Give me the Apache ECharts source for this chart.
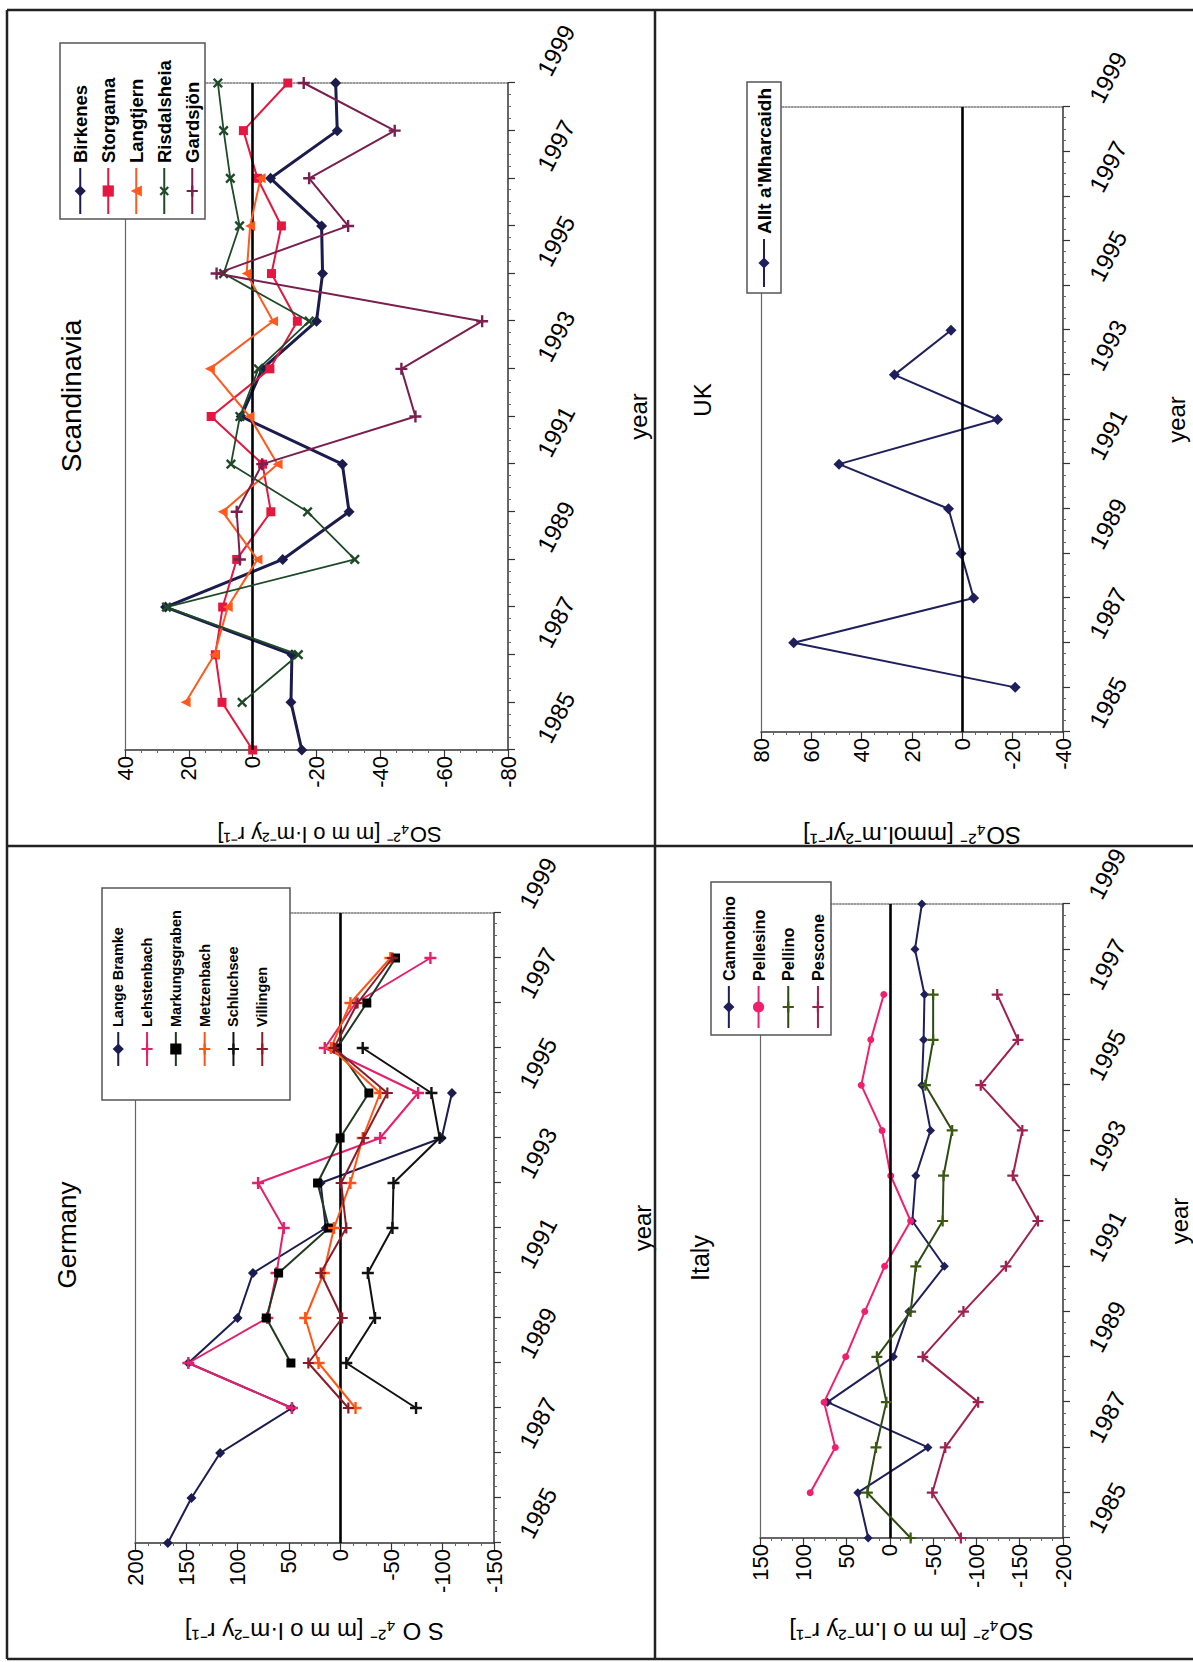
<!DOCTYPE html>
<html><head><meta charset="utf-8">
<script src="https://cdn.jsdelivr.net/npm/echarts@6/dist/echarts.min.js"></script>
<style>
html,body{margin:0;padding:0;width:1193px;height:1662px;overflow:hidden;background:#fff;}
#wrap{position:absolute;left:0;top:0;width:1662px;height:1193px;transform-origin:0 0;transform:translate(0px,1662px) rotate(-90deg);}
#chart{width:1662px;height:1193px;}
</style></head><body>
<div id="wrap"><div id="chart"></div></div>
<script>
// ---------- DATA ----------
const years = [1984,1985,1986,1987,1988,1989,1990,1991,1992,1993,1994,1995,1996,1997,1998];
const extraYearLabel = 1999;

// Scandinavia
const scanBirkenes    = [-15.4,-12,-12.3,27.3,-9.4,-30.2,-28.1,3.6,-3,-20,-21.9,-21.6,-5.6,-26.5,-26];
const scanStorgama    = [0,9.6,11.7,9.4,5,-5.7,-3.1,13,-5.4,-14,-5.9,-9,-1.5,2.9,-11];
const scanLangtjern   = [null,21,12,7.8,-1.5,9.4,-7.8,1,13.4,-6.4,1.9,0.8,-2.5,null,null];
const scanRisdalsheia = [null,3.3,-14.3,27,-32,-17.2,6.8,4,-1.8,-17.7,9.1,4.1,7,9.1,10.9];
const scanGardsjon    = [null,null,null,null,4,5,-3,-51,-46.6,-71.9,11.3,-29.9,-17.7,-44.5,-16];

// Germany
const gerLangeBramke   = [168,145,117,47,148,100,85,14,19,-99,-109,null,null,null,null];
const gerLehstenbach   = [null,null,null,47,148,71,62,55,80,-39,-76,15,-15,-88,null];
const gerMarkungsgraben= [null,null,null,null,48,72,60,11,22,0,-28,3,-26,-54,null];
const gerMetzenbach    = [null,null,null,-15,21,34,16,6,-10,-22,-39,9,-10,-49,null];
const gerSchluchsee    = [null,null,null,-74,-6,-34,-27,-51,-52,-97,-89,-22,null,null,null];
const gerVillingen     = [null,null,null,-8,31,-2,19,-6,-1,-23,-46,6,-17,-51,null];

// Italy
const itaCannobino = [25,37,-44,72,-4,-22,-63,-26,-30,-47,-37,-39,-40,-29,-37];
const itaPellesino = [null,92,63,76,51,29,6,-24,-1,9,33,22,7,null,null];
const itaPellino   = [-24,26,16,4,15,-24,-30,-61,-62,-72,-41,-50,-50,null,null];
const itaPescone   = [-82,-49,-64,-102,-38,-85,-134,-171,-142,-153,-105,-148,-124,null,null];

// UK
const ukAllt = [null,-21,67,-4.5,0.5,5.5,49,-14,27,4.5,null,null,null,null,null];

// value-axis ranges (tick labels)
const scanRange = {min:-80, max:40, interval:20};
const gerRange  = {min:-150, max:200, interval:50};
const itaRange  = {min:-200, max:150, interval:50};
const ukRange   = {min:-40, max:80, interval:20};

const titles = ['Scandinavia','Germany','Italy','UK'];
const axisNames = ['SO\u2084\u00B2\u207B [m m o l\u00B7m\u207B\u00B2y r\u207B\u00B9]',
                   'S O \u2084\u00B2\u207B [m m o l\u00B7m\u207B\u00B2y r\u207B\u00B9]',
                   'SO\u2084\u00B2\u207B [m m o l.m\u207B\u00B2y r\u207B\u00B9]',
                   'SO\u2084\u00B2\u207B [mmol.m\u207B\u00B2yr\u207B\u00B9]'];
const yearName = 'year';

// ---------- STYLE / LAYOUT (landscape coords, page is rotated -90deg) ----------
const FONT = "'Liberation Sans', Arial, sans-serif";
const PLUS = 'path://M-1,-5H1V-1H5V1H1V5H-1V1H-5V-1H-1Z';

const panels = [
  {range:scanRange, grid:{left:912,top:125,width:667,height:383}, nameGap:73, nameSize:22, namePad:[0,26,0,0], yearGap:118, labelMargin:56,
   title:[1266,71], titleSize:28,
   legend:{box:[1443,60,176,145], iconLeft:1447, iconW:46, first:80, step:27.5, font:18.5},
   series:[
    {name:'Birkenes', data:scanBirkenes, color:'#1c1b4d', symbol:'diamond', size:11, width:3},
    {name:'Storgama', data:scanStorgama, color:'#e3173f', symbol:'rect', size:9, width:2},
    {name:'Langtjern', data:scanLangtjern, color:'#ff5a1e', symbol:'triangle', size:10, width:2},
    {name:'Risdalsheia', data:scanRisdalsheia, color:'#1f4a28', symbol:PLUS, size:12, width:1.8, rotate:45},
    {name:'Gardsjön', data:scanGardsjon, color:'#7a1f4f', symbol:PLUS, size:12, width:2}
   ]},
  {range:gerRange, grid:{left:119,top:135,width:630,height:359}, nameGap:76, nameSize:24, namePad:[0,0,0,0], yearGap:136, labelMargin:52,
   title:[427,67], titleSize:26,
   legend:{box:[562,102,212,188], iconLeft:595, iconW:34, first:118, step:28.3, font:14.5},
   series:[
    {name:'Lange Bramke', data:gerLangeBramke, color:'#1c1c50', symbol:'diamond', size:10, width:2},
    {name:'Lehstenbach', data:gerLehstenbach, color:'#e4206c', symbol:PLUS, size:12, width:2},
    {name:'Markungsgraben', data:gerMarkungsgraben, color:'#1f3a1f', symbol:'rect', size:9, width:2, mcolor:'#000'},
    {name:'Metzenbach', data:gerMetzenbach, color:'#ff5514', symbol:PLUS, size:12, width:2},
    {name:'Schluchsee', data:gerSchluchsee, color:'#111111', symbol:PLUS, size:12, width:2},
    {name:'Villingen', data:gerVillingen, color:'#8a1c2a', symbol:PLUS, size:11, width:2}
   ]},
  {range:itaRange, grid:{left:124,top:760,width:634,height:303}, nameGap:81, nameSize:24, namePad:[0,0,0,0], yearGap:104, labelMargin:52,
   title:[404,700], titleSize:25,
   legend:{box:[627,711,153,120], iconLeft:633, iconW:42, first:729, step:30, font:16.3},
   series:[
    {name:'Cannobino', data:itaCannobino, color:'#1f1f5c', symbol:'diamond', size:9, width:2},
    {name:'Pellesino', data:itaPellesino, color:'#f0206e', symbol:'circle', size:7, width:2},
    {name:'Pellino', data:itaPellino, color:'#2d4a14', symbol:PLUS, size:11, width:2, mcolor:'#3b5a10'},
    {name:'Pescone', data:itaPescone, color:'#a0204f', symbol:PLUS, size:11, width:2}
   ]},
  {range:ukRange, grid:{left:930,top:761,width:625,height:302}, nameGap:91, nameSize:24, namePad:[0,0,0,0], yearGap:101, labelMargin:53,
   title:[1262,702], titleSize:24,
   legend:{box:[1369,747,211,34], iconLeft:1374, iconW:48, first:764, step:30, font:19},
   series:[
    {name:"Allt a'Mharcaidh", data:ukAllt, color:'#1f1f5c', symbol:'diamond', size:11, width:2}
   ]}
];

const chart = echarts.init(document.getElementById('chart'), null, {renderer:'svg', width:1662, height:1193});

const grids=[], xAxes=[], yAxes=[], series=[], legends=[];
panels.forEach((P,i)=>{
  grids.push(Object.assign({containLabel:false, outerBoundsMode:'none'}, P.grid));
  xAxes.push({gridIndex:i, type:'value', min:years[0], max:years[years.length-1], interval:1, position:'bottom',
    axisLine:{show:true, onZero:false, lineStyle:{color:'#333', width:1.5}},
    axisTick:{show:true, inside:false, length:7, lineStyle:{color:'#333', width:1.2}},
    minorTick:{show:true, splitNumber:4, length:3, lineStyle:{color:'#666', width:1}},
    splitLine:{show:false},
    axisLabel:{show:true, formatter:v=> (v%2===1 ? String(v) : ''), rotate:-28, align:'center', verticalAlign:'middle',
      margin:P.labelMargin, padding:[0,34,0,0], fontSize:24, fontFamily:FONT, color:'#000', showMinLabel:true, showMaxLabel:true, hideOverlap:false},
    name:yearName, nameLocation:'middle', nameGap:P.yearGap, nameTextStyle:{fontSize:24, fontFamily:FONT, color:'#000'}
  });
  yAxes.push({gridIndex:i, type:'value', min:P.range.min, max:P.range.max, interval:P.range.interval, position:'left',
    axisLine:{show:true, onZero:false, lineStyle:{color:'#333', width:1.5}},
    axisTick:{show:true, inside:false, length:7, lineStyle:{color:'#333', width:1.2}},
    minorTick:{show:true, splitNumber:4, length:3, lineStyle:{color:'#666', width:1}},
    splitLine:{show:false},
    axisLabel:{fontSize:22, fontFamily:FONT, color:'#000', margin:6},
    name:axisNames[i], nameLocation:'middle', nameGap:P.nameGap,
    nameTextStyle:{fontSize:P.nameSize, fontFamily:FONT, color:'#000', padding:P.namePad}
  });
  P.series.forEach((s,k)=>{
    const o = {
      name:s.name, type:'line', xAxisIndex:i, yAxisIndex:i,
      data: years.map((y,j)=>[y, s.data[j]===null ? '-' : s.data[j]]),
      symbol:s.symbol, symbolSize:s.size, symbolRotate:s.rotate||0, showSymbol:true, connectNulls:false,
      lineStyle:{color:s.color, width:s.width},
      itemStyle:{color:s.mcolor||s.color},
      emphasis:{disabled:true}, animation:false, z:3+k
    };
    if(k===0){
      o.markLine = {silent:true, symbol:'none', animation:false, label:{show:false},
        lineStyle:{color:'#000', width:2.6, type:'solid'}, data:[{yAxis:0}]};
    }
    series.push(o);
  });
  const L = P.legend, h = Math.max(14, L.font);
  legends.push({orient:'vertical', left:L.iconLeft, top:L.first - h/2, data:P.series.map(s=>s.name),
    itemWidth:L.iconW, itemHeight:14, itemGap:L.step - h, padding:0,
    borderWidth:0, backgroundColor:'transparent', selectedMode:false,
    textStyle:{fontSize:L.font, fontWeight:'bold', fontFamily:FONT, color:'#000'}, z:20});
});
// frame lines of plot area: top (max value) solid grey, right (last year) dotted grey
panels.forEach((P,i)=>{
  xAxes.push({gridIndex:i, type:'value', min:years[0], max:years[years.length-1], position:'top',
    axisLine:{show:true, onZero:false, lineStyle:{color:'#666', width:1.2}}, axisTick:{show:false}, axisLabel:{show:false}, splitLine:{show:false}});
  yAxes.push({gridIndex:i, type:'value', min:P.range.min, max:P.range.max, position:'right',
    axisLine:{show:true, onZero:false, lineStyle:{color:'#777', width:1.5, type:'dotted'}}, axisTick:{show:false}, axisLabel:{show:false}, splitLine:{show:false}});
});

chart.setOption({
  animation:false,
  backgroundColor:'#fff',
  grid:grids, xAxis:xAxes, yAxis:yAxes, series:series, legend:legends
});

// decorations: outer frame, panel dividers, legend boxes, titles, extra year label
const gfx = [];
const frame = {stroke:'#222', lineWidth:2.5};
gfx.push({type:'line', shape:{x1:3, y1:7, x2:1652, y2:7}, style:frame, z:30});
gfx.push({type:'line', shape:{x1:3, y1:7, x2:3, y2:1193}, style:frame, z:30});
gfx.push({type:'line', shape:{x1:1652, y1:7, x2:1652, y2:1193}, style:frame, z:30});
gfx.push({type:'line', shape:{x1:3, y1:655, x2:1652, y2:655}, style:frame, z:30});
gfx.push({type:'line', shape:{x1:816, y1:7, x2:816, y2:1193}, style:frame, z:30});
panels.forEach((P,i)=>{
  const b = P.legend.box;
  gfx.push({type:'rect', shape:{x:b[0], y:b[1], width:b[2], height:b[3]}, style:{fill:'#fff', stroke:'#555', lineWidth:1.5}, z:15});
  gfx.push({type:'text', x:P.title[0], y:P.title[1], style:{text:titles[i], fontSize:P.titleSize, fontFamily:FONT, fill:'#000', align:'center', verticalAlign:'middle'}});
  const p = chart.convertToPixel({xAxisIndex:i, yAxisIndex:i}, [extraYearLabel, P.range.min]);
  gfx.push({type:'text', x:p[0], y:p[1]+P.labelMargin, rotation:-28*Math.PI/180,
    style:{text:String(extraYearLabel), fontSize:24, fontFamily:FONT, fill:'#000', align:'center', verticalAlign:'middle', padding:[0,34,0,0]}});
});
chart.setOption({graphic:gfx});
</script>
</body></html>
